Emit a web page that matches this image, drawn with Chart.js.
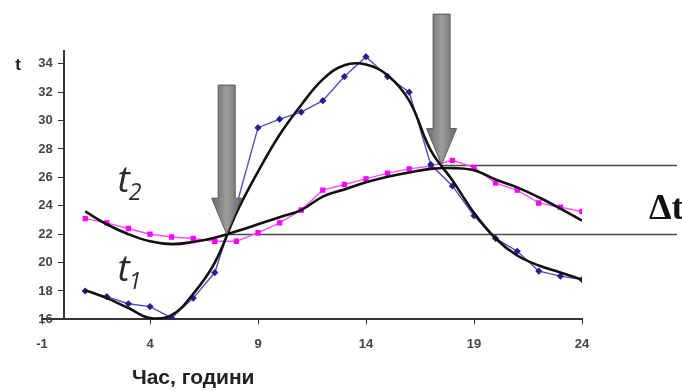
<!DOCTYPE html>
<html><head><meta charset="utf-8">
<script src="https://cdn.jsdelivr.net/npm/chart.js@4/dist/chart.umd.min.js"></script>
<style>html,body{margin:0;padding:0;background:#fff;}#wrap{width:682px;height:391px;position:relative;}</style>
</head><body><div id="wrap"><canvas id="c" width="682" height="391"></canvas></div>
<script>
// ---- data ----
const hours = [1,2,3,4,5,6,7,8,9,10,11,12,13,14,15,16,17,18,19,20,21,22,23,24];
const t1Measured = [18.0,17.6,17.1,16.9,16.1,17.5,19.3,24.0,29.5,30.1,30.6,31.4,33.1,34.5,33.1,32.0,26.9,25.4,23.3,21.7,20.8,19.4,19.05,18.8];
const t2Measured = [23.1,22.8,22.4,22.0,21.8,21.7,21.5,21.5,22.1,22.8,23.7,25.1,25.5,25.9,26.3,26.6,26.8,27.2,26.7,25.6,25.1,24.2,23.9,23.6];
const t1Trend = [18.06,17.5,16.8,16.1,16.3,17.8,20.0,23.5,26.4,29.0,31.1,32.9,33.9,33.95,33.2,31.4,27.9,25.8,23.5,21.7,20.5,19.8,19.3,18.8];
const t2Trend = [23.6,22.7,22.0,21.5,21.3,21.45,21.75,22.2,22.7,23.2,23.7,24.65,25.15,25.65,26.05,26.35,26.6,26.65,26.5,25.85,25.3,24.6,23.8,22.95];
const xTicks = [-1,4,9,14,19,24];
const yTicks = [16,18,20,22,24,26,28,30,32,34];
const xAxisTitle = 'Час, години';
const yAxisTitle = 't';
const deltaLabel = 'Δt';
const seriesNames = ['t', 't'];
const seriesSubs = ['1', '2'];
const crossTimes = [7.55, 17.5];   // hours of the two marked crossings
const crossTemps = [22.0, 26.9];   // temperature levels of the two lines

const pts = (ys) => hours.map((h, i) => ({x: h, y: ys[i]}));

const overlay = {
  id: 'overlay',
  beforeDatasetsDraw(chart) {
    const {ctx, scales: {x, y}} = chart;
    ctx.save();
    ctx.strokeStyle = '#4a4a4a';
    ctx.lineWidth = 1.6;
    for (let i = 0; i < crossTimes.length; i++) {
      const py = Math.round(y.getPixelForValue(crossTemps[i])) + 0.5;
      ctx.beginPath();
      ctx.moveTo(x.getPixelForValue(crossTimes[i]), py);
      ctx.lineTo(chart.width - 5, py);
      ctx.stroke();
    }
    ctx.restore();
  },
  afterDatasetsDraw(chart) {
    const {ctx, scales: {x, y}, chartArea} = chart;
    ctx.save();
    // arrows
    const tops = [32.5, 37.5];
    for (let i = 0; i < crossTimes.length; i++) {
      const tx = x.getPixelForValue(crossTimes[i]);
      const ty = y.getPixelForValue(crossTemps[i]);
      const top = y.getPixelForValue(tops[i]);
      const sw = 8.5, hw = 15, hl = 36;
      const g = ctx.createLinearGradient(tx - hw, 0, tx + hw, 0);
      g.addColorStop(0, '#6a6a6a'); g.addColorStop(0.5, '#9c9c9c'); g.addColorStop(1, '#6a6a6a');
      ctx.beginPath();
      ctx.moveTo(tx - sw, top);
      ctx.lineTo(tx + sw, top);
      ctx.lineTo(tx + sw, ty - hl);
      ctx.lineTo(tx + hw, ty - hl);
      ctx.lineTo(tx, ty);
      ctx.lineTo(tx - hw, ty - hl);
      ctx.lineTo(tx - sw, ty - hl);
      ctx.closePath();
      ctx.fillStyle = g;
      ctx.fill();
      ctx.strokeStyle = '#5a5a5a';
      ctx.lineWidth = 1;
      ctx.stroke();
    }
    // series labels t1, t2
    const labelPos = [{x: 2.5, y: 18.7}, {x: 2.5, y: 25.0}];
    ctx.fillStyle = '#2a2a2a';
    ctx.textBaseline = 'alphabetic';
    ctx.textAlign = 'left';
    for (let i = 0; i < 2; i++) {
      const px = x.getPixelForValue(labelPos[i].x);
      const py = y.getPixelForValue(labelPos[i].y);
      ctx.font = 'italic 37px "Open Sans"';
      ctx.fillText(seriesNames[i], px, py);
      const w = ctx.measureText(seriesNames[i]).width;
      ctx.font = 'italic 23px "Open Sans"';
      ctx.fillText(seriesSubs[i], px + w - 1, py + 8);
    }
    // delta t
    ctx.font = 'bold 36px "Liberation Serif"';
    ctx.fillStyle = '#111';
    ctx.fillText(deltaLabel, 649, y.getPixelForValue(23.1));
    // axis titles
    ctx.font = 'bold 17px "Liberation Sans"';
    ctx.fillStyle = '#222';
    ctx.textAlign = 'center';
    ctx.fillText(yAxisTitle, chartArea.left - 24, y.getPixelForValue(34) + 6);
    ctx.font = 'bold 21px "Liberation Sans"';
    ctx.fillText(xAxisTitle, x.getPixelForValue(6.0), chart.height - 7);
    ctx.restore();
  }
};

new Chart(document.getElementById('c'), {
  type: 'scatter',
  data: {
    datasets: [
      {data: pts(t1Trend), showLine: true, borderColor: '#111', borderWidth: 2.6, pointRadius: 0, tension: 0.4},
      {data: pts(t2Trend), showLine: true, borderColor: '#111', borderWidth: 2.6, pointRadius: 0, tension: 0.4},
      {data: pts(t1Measured), showLine: true, borderColor: '#5050b8', borderWidth: 1.4, pointStyle: 'rectRot', pointRadius: 2.6, pointBackgroundColor: '#202090', pointBorderColor: '#202090', tension: 0},
      {data: pts(t2Measured), showLine: true, borderColor: '#ff50ff', borderWidth: 1.4, pointStyle: 'rect', pointRadius: 2.8, pointBackgroundColor: '#ff00ff', pointBorderColor: '#ff00ff', tension: 0}
    ]
  },
  options: {
    responsive: false,
    animation: false,
    devicePixelRatio: 1,
    layout: {padding: {left: 42, right: 100, top: 51, bottom: 27}},
    plugins: {legend: {display: false}, tooltip: {enabled: false}},
    scales: {
      x: {
        type: 'linear', position: 'bottom', min: -1, max: 24,
        afterBuildTicks: (s) => { s.ticks = xTicks.map(v => ({value: v})); },
        ticks: {color: '#444', font: {family: 'Liberation Sans', size: 13, weight: 'bold'}, padding: 12},
        grid: {drawOnChartArea: false, drawTicks: true, tickLength: 5, color: '#333'},
        border: {display: true, color: '#333', width: 2}
      },
      y: {
        type: 'linear', position: {x: 0}, min: 16, max: 34.9,
        afterBuildTicks: (s) => { s.ticks = yTicks.map(v => ({value: v})); },
        ticks: {color: '#444', font: {family: 'Liberation Sans', size: 13, weight: 'bold'}, callback: (v) => v + '   '},
        grid: {drawOnChartArea: false, drawTicks: true, tickLength: 5, color: '#333'},
        border: {display: true, color: '#333', width: 2}
      }
    }
  },
  plugins: [overlay]
});
</script></body></html>
